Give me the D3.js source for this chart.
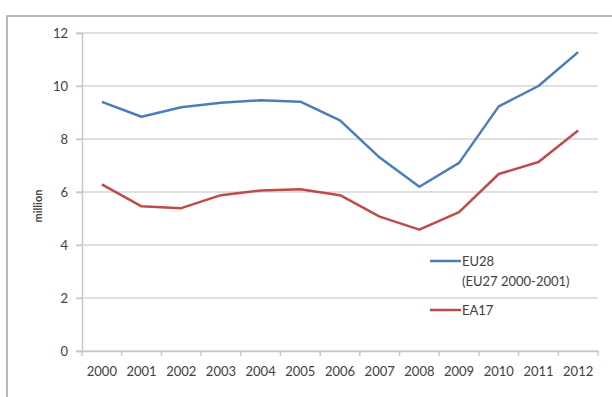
<!DOCTYPE html>
<html>
<head>
<meta charset="utf-8">
<script src="https://cdn.jsdelivr.net/npm/d3@7/dist/d3.min.js"></script>
<style>
  html, body { margin: 0; padding: 0; background: #fff; }
  svg { display: block; }
  text { font-family: Lato, "Open Sans", sans-serif; fill: #404040; }
</style>
</head>
<body>
<svg id="chart" width="612" height="397"></svg>
<script>
// Unemployed persons, millions
const years = ["2000","2001","2002","2003","2004","2005","2006","2007","2008","2009","2010","2011","2012"];
const eu28 = [9.40, 8.84, 9.20, 9.37, 9.46, 9.41, 8.70, 7.30, 6.20, 7.10, 9.23, 10.0, 11.28];
const ea17 = [6.29, 5.46, 5.39, 5.88, 6.06, 6.10, 5.88, 5.07, 4.58, 5.24, 6.68, 7.13, 8.32];
const yTicks = [0, 2, 4, 6, 8, 10, 12];
const seriesNames = ["EU28", "EA17"];
const seriesNotes = ["(EU27 2000-2001)", ""];
const colors = ["#4a7ebb", "#be4b48"];

const svg = d3.select("#chart");
const W = 612, H = 397;
const m = { left: 82, right: 598, top: 33, bottom: 351 };

// outer frame (top and left edges visible)
svg.append("path")
  .attr("d", `M7,${H} L7,16 L${W},16`)
  .attr("fill", "none")
  .attr("stroke", "#b8b8b8")
  .attr("stroke-width", 2);

const x = d3.scaleBand().domain(years).range([m.left, m.right]);
const y = d3.scaleLinear().domain([0, 12]).range([m.bottom, m.top]);

// horizontal gridlines
svg.append("g")
  .selectAll("line")
  .data(yTicks)
  .join("line")
  .attr("x1", m.left - 6)
  .attr("x2", m.right)
  .attr("y1", d => y(d))
  .attr("y2", d => y(d))
  .attr("stroke", "#d4d4d4")
  .attr("stroke-width", 1.5);

// y axis
const yAxis = svg.append("g")
  .attr("transform", `translate(${m.left},0)`)
  .call(d3.axisLeft(y).tickValues(yTicks).tickSize(6).tickPadding(8).tickFormat(d3.format("d")));
yAxis.select(".domain").attr("stroke", "#c8c8c8").attr("stroke-width", 1.5);
yAxis.selectAll(".tick line").attr("stroke", "#c8c8c8").attr("stroke-width", 1.5);
yAxis.selectAll(".tick text")
  .attr("font-size", 13)
  .attr("font-family", "Lato, sans-serif")
  .attr("fill", "#404040");

// x axis: labels centred in each band, ticks on band boundaries
const xAxis = svg.append("g")
  .attr("transform", `translate(0,${m.bottom})`)
  .call(d3.axisBottom(x).tickSize(0).tickPadding(16));
xAxis.select(".domain").attr("stroke", "#c8c8c8").attr("stroke-width", 1.5);
xAxis.selectAll(".tick text")
  .attr("font-size", 13)
  .attr("font-family", "Lato, sans-serif")
  .attr("fill", "#404040");
const boundaries = years.map(d => x(d)).concat([x.range()[1]]);
xAxis.append("g")
  .selectAll("line")
  .data(boundaries)
  .join("line")
  .attr("x1", d => d).attr("x2", d => d)
  .attr("y1", 0).attr("y2", 5)
  .attr("stroke", "#c8c8c8")
  .attr("stroke-width", 1.5);

// y axis title
svg.append("text")
  .attr("transform", `translate(42,${(m.top + m.bottom) / 2 + 14}) rotate(-90)`)
  .attr("text-anchor", "middle")
  .attr("font-size", 11)
  .attr("font-weight", "bold")
  .attr("fill", "#222")
  .text("million");

// series lines
const line = d3.line()
  .x((d, i) => x(years[i]) + x.bandwidth() / 2)
  .y(d => y(d));

[eu28, ea17].forEach((vals, k) => {
  svg.append("path")
    .datum(vals)
    .attr("d", line)
    .attr("fill", "none")
    .attr("stroke", colors[k])
    .attr("stroke-width", 2.5)
    .attr("stroke-linejoin", "round");
});

// legend
const legendY = [261, 310];
seriesNames.forEach((name, k) => {
  const g = svg.append("g").attr("transform", `translate(430,${legendY[k]})`);
  g.append("line")
    .attr("x1", 0).attr("x2", 31)
    .attr("y1", 0).attr("y2", 0)
    .attr("stroke", colors[k])
    .attr("stroke-width", 2.5);
  g.append("text")
    .attr("x", 32).attr("y", 4.5)
    .attr("font-size", 13)
    .text(name);
  if (seriesNotes[k]) {
    g.append("text")
      .attr("x", 32).attr("y", 25)
      .attr("font-size", 13)
      .text(seriesNotes[k]);
  }
});
</script>
</body>
</html>
